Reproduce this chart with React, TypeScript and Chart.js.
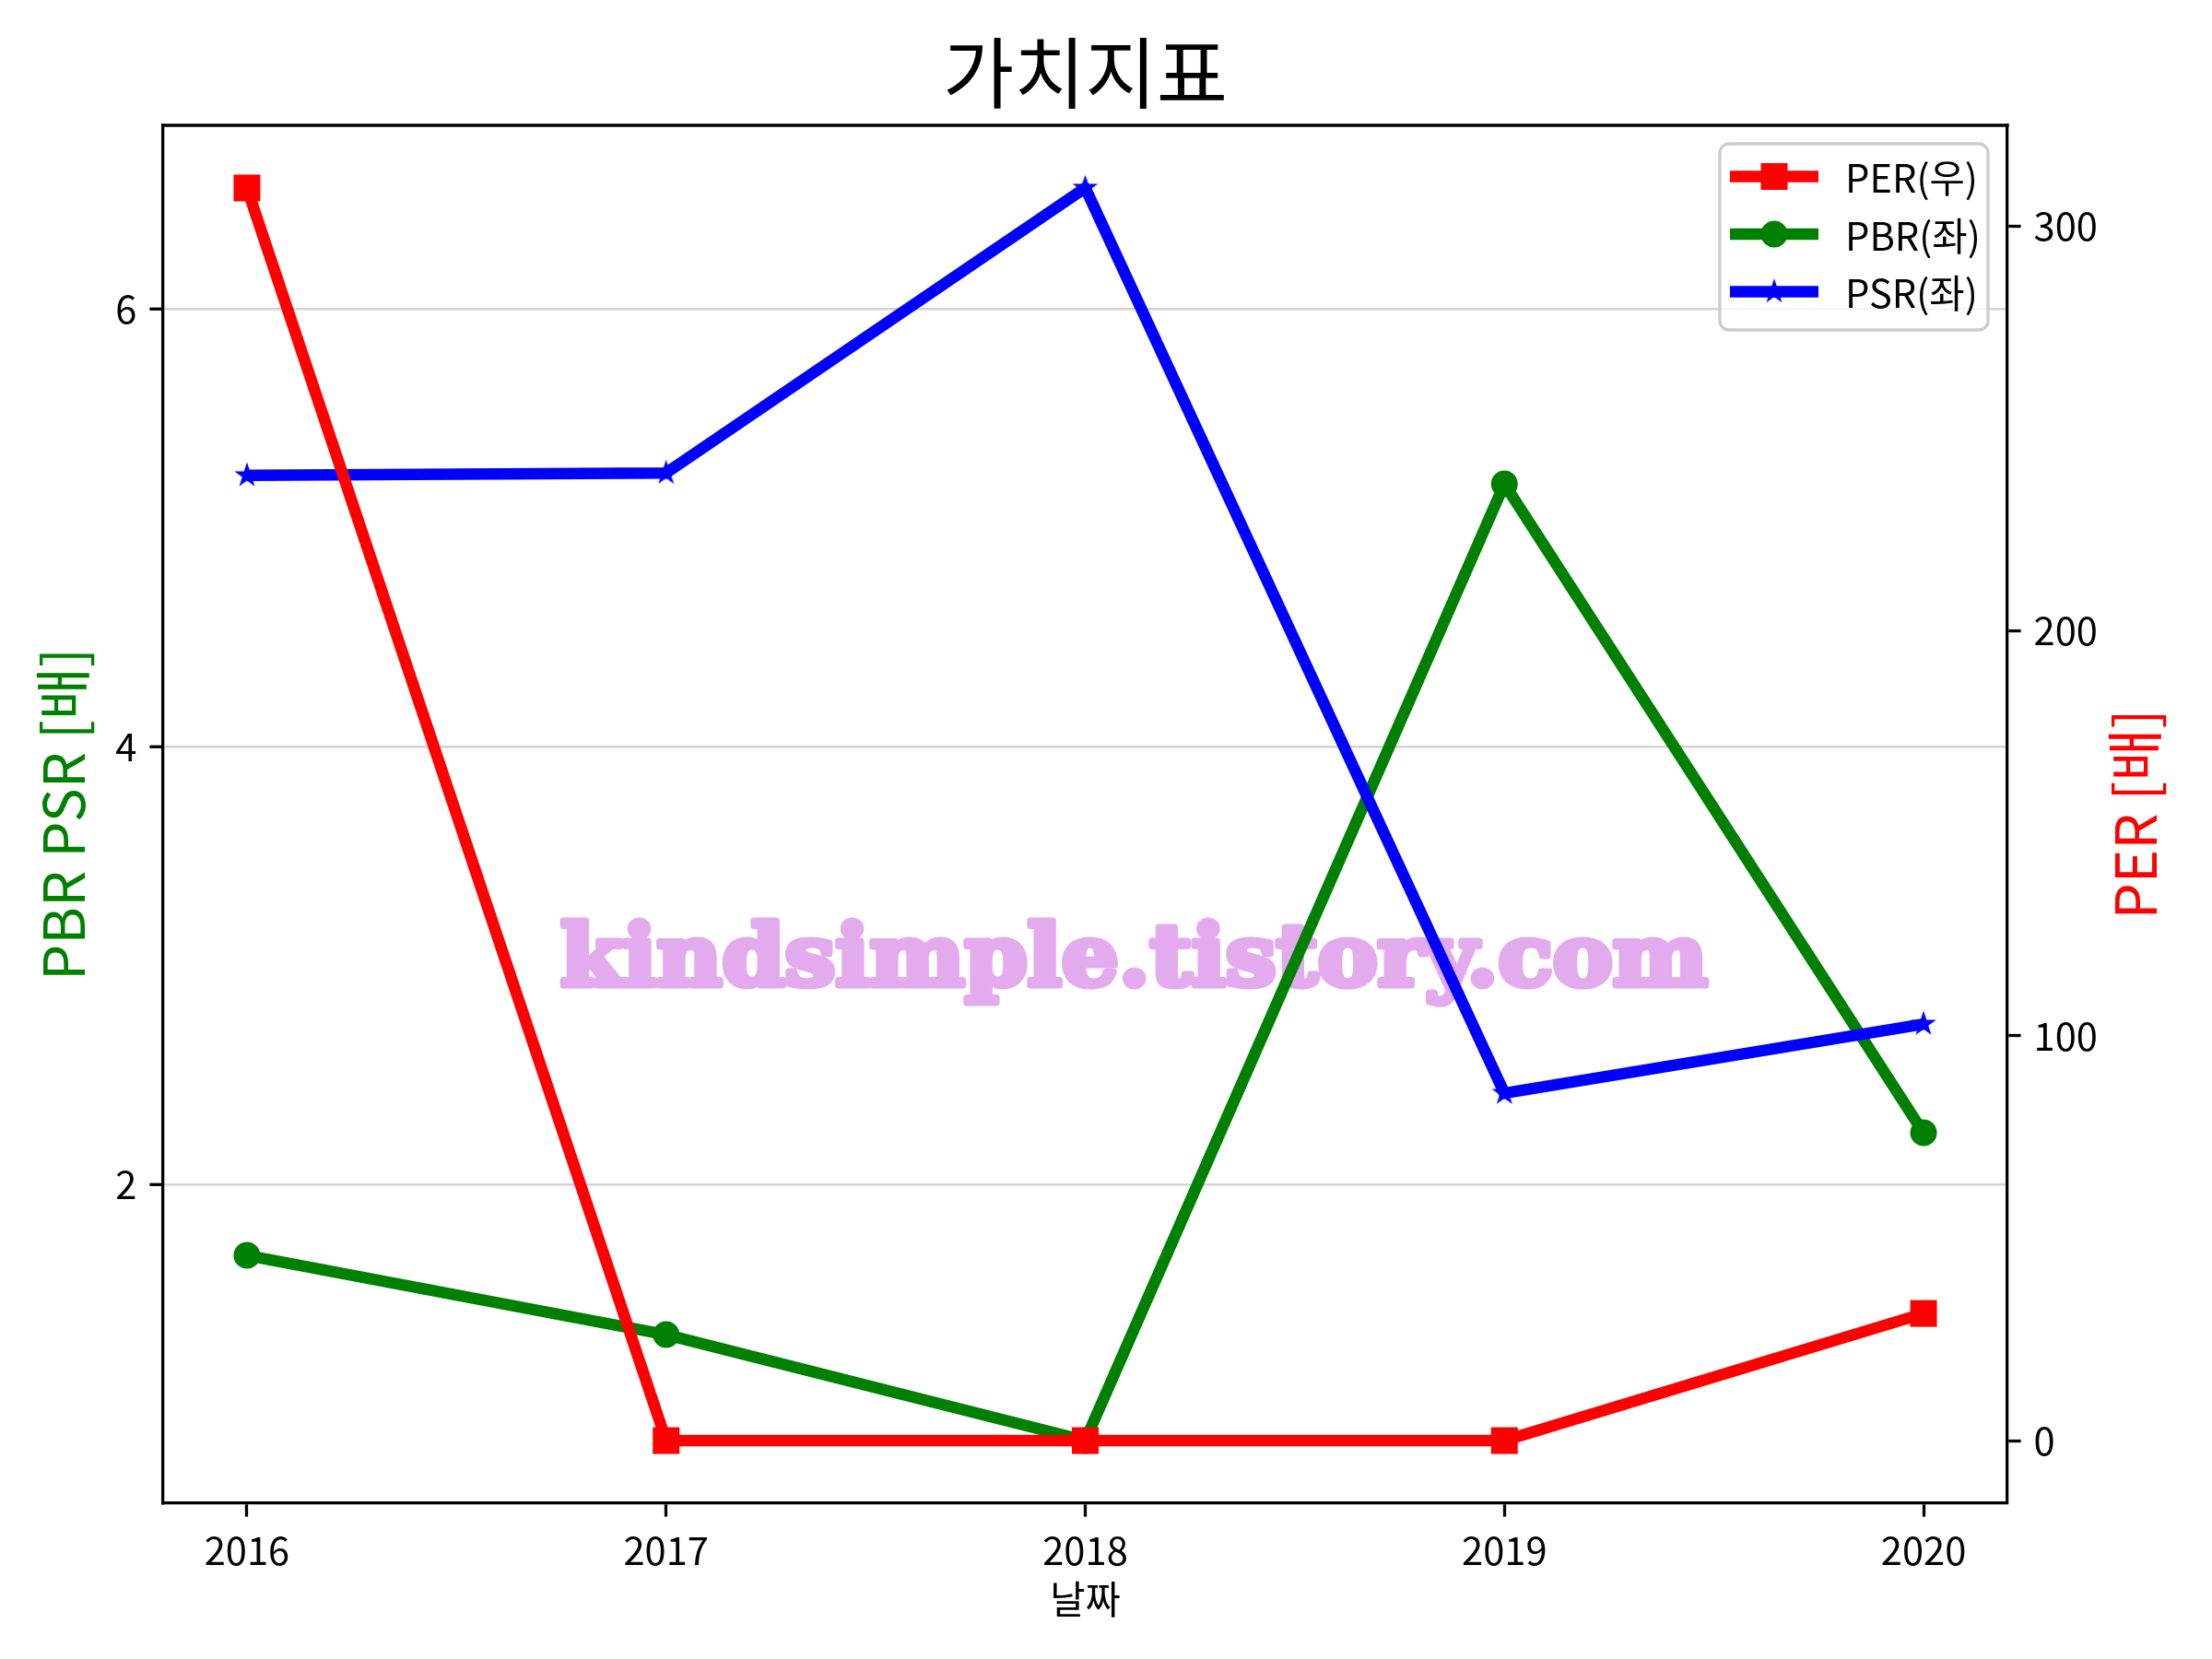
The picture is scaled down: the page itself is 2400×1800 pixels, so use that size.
import React, { useEffect, useRef } from "react";
import { Chart, registerables } from "chart.js";

Chart.register(...registerables);

const years = [2016, 2017, 2018, 2019, 2020];
const perValues = [309.4, 0, 0, 0, 31.4];
const pbrValues = [1.676, 1.314, 0.83, 5.2, 2.236];
const psrValues = [5.239, 5.25, 6.552, 2.417, 2.733];
const leftTicks = [2, 4, 6];
const rightTicks = [0, 100, 200, 300];
const titleText = "가치지표";
const xLabel = "날짜";
const leftLabel = "PBR PSR [배]";
const rightLabel = "PER [배]";
const legendLabels = ["PER(우)", "PBR(좌)", "PSR(좌)"];
const watermarkText = "kindsimple.tistory.com";

const FONT = "'Noto Sans CJK KR', 'Noto Sans', sans-serif";
const RED = "#ff0000";
const GREEN = "#008000";
const BLUE = "#0000ff";

function paddedRange(values: number[]) {
  const lo = Math.min(...values);
  const hi = Math.max(...values);
  const pad = (hi - lo) * 0.05;
  return { min: lo - pad, max: hi + pad };
}

function makeStar(color: string, outer: number) {
  const c = document.createElement("canvas");
  const s = Math.ceil(outer * 2 + 4);
  c.width = s;
  c.height = s;
  const ctx = c.getContext("2d")!;
  ctx.translate(s / 2, s / 2);
  ctx.beginPath();
  for (let i = 0; i < 10; i++) {
    const r = i % 2 === 0 ? outer : outer * 0.381966;
    const a = -Math.PI / 2 + (i * Math.PI) / 5;
    ctx.lineTo(r * Math.cos(a), r * Math.sin(a));
  }
  ctx.closePath();
  ctx.fillStyle = color;
  ctx.fill();
  ctx.lineWidth = 1.5;
  ctx.strokeStyle = color;
  ctx.stroke();
  return c;
}

export default function App() {
  const ref = useRef<HTMLCanvasElement | null>(null);

  useEffect(() => {
    if (!ref.current) return;
    const star = makeStar(BLUE, 12);
    const leftRange = paddedRange([...pbrValues, ...psrValues]);
    const rightRange = paddedRange(perValues);
    const xRange = paddedRange(years);

    const decor = {
      id: "decor",
      beforeDatasetsDraw(chart: any) {
        const ctx = chart.ctx as CanvasRenderingContext2D;
        ctx.save();
        ctx.font = "bold 92px 'DejaVu Serif', serif";
        const w = ctx.measureText(watermarkText).width;
        ctx.translate(1230.5, 1069);
        ctx.scale(1245 / w, 1);
        ctx.textAlign = "center";
        ctx.textBaseline = "alphabetic";
        ctx.fillStyle = "rgb(227,170,238)";
        ctx.strokeStyle = "rgb(227,170,238)";
        ctx.lineWidth = 7;
        ctx.lineJoin = "round";
        ctx.strokeText(watermarkText, 0, 0);
        ctx.fillText(watermarkText, 0, 0);
        ctx.restore();
      },
      afterDraw(chart: any) {
        const ctx = chart.ctx as CanvasRenderingContext2D;
        const a = chart.chartArea;
        const cx = (a.left + a.right) / 2;
        const cy = (a.top + a.bottom) / 2;
        ctx.save();
        // top spine
        ctx.strokeStyle = "#000";
        ctx.lineWidth = 3.3;
        ctx.beginPath();
        ctx.moveTo(a.left - 1.65, a.top);
        ctx.lineTo(a.right + 1.65, a.top);
        ctx.stroke();

        // title
        ctx.fillStyle = "#000";
        ctx.font = `84px ${FONT}`;
        ctx.textAlign = "center";
        ctx.textBaseline = "alphabetic";
        ctx.fillText(titleText, cx, 111);

        // x label
        ctx.font = `41.7px ${FONT}`;
        ctx.fillText(xLabel, cx, 1751);

        // left label
        ctx.save();
        ctx.font = `62px ${FONT}`;
        ctx.fillStyle = GREEN;
        ctx.translate(92, cy);
        ctx.rotate(-Math.PI / 2);
        ctx.fillText(leftLabel, 0, 0);
        ctx.restore();

        // right label
        ctx.save();
        ctx.font = `62px ${FONT}`;
        ctx.fillStyle = RED;
        ctx.translate(2340, cy);
        ctx.rotate(-Math.PI / 2);
        ctx.fillText(rightLabel, 0, 0);
        ctx.restore();

        // legend
        const lx = 1866, ly = 156, lw = 291, lh = 202;
        ctx.beginPath();
        ctx.roundRect(lx, ly, lw, lh, 10);
        ctx.fillStyle = "rgba(255,255,255,0.8)";
        ctx.fill();
        ctx.strokeStyle = "#cccccc";
        ctx.lineWidth = 3.3;
        ctx.stroke();

        const rows = [191.5, 254, 316.5];
        const colors = [RED, GREEN, BLUE];
        rows.forEach((y, i) => {
          ctx.strokeStyle = colors[i];
          ctx.lineWidth = 12.5;
          ctx.beginPath();
          ctx.moveTo(1877, y);
          ctx.lineTo(1973, y);
          ctx.stroke();
          ctx.fillStyle = colors[i];
          if (i === 0) {
            ctx.fillRect(1925 - 14.5, y - 14.5, 29, 29);
          } else if (i === 1) {
            ctx.beginPath();
            ctx.arc(1925, y, 14.5, 0, Math.PI * 2);
            ctx.fill();
          } else {
            ctx.drawImage(star, 1925 - star.width / 2, y - star.height / 2);
          }
          ctx.fillStyle = "#000";
          ctx.font = `41.7px ${FONT}`;
          ctx.textAlign = "left";
          ctx.textBaseline = "middle";
          ctx.fillText(legendLabels[i], 2002, y + 2);
        });
        ctx.restore();
      },
    };

    const tickFont = { family: FONT, size: 41.7 };

    const chart = new Chart(ref.current, {
      type: "line",
      data: {
        datasets: [
          {
            label: legendLabels[0],
            data: years.map((x, i) => ({ x, y: perValues[i] })),
            yAxisID: "yR",
            borderColor: RED,
            backgroundColor: RED,
            borderWidth: 12.5,
            pointStyle: "rect",
            pointRadius: 20.5,
            pointBorderWidth: 0,
            pointBackgroundColor: RED,
            order: 0,
          },
          {
            label: legendLabels[1],
            data: years.map((x, i) => ({ x, y: pbrValues[i] })),
            yAxisID: "yL",
            borderColor: GREEN,
            backgroundColor: GREEN,
            borderWidth: 12.5,
            pointStyle: "circle",
            pointRadius: 14.5,
            pointBorderWidth: 0,
            pointBackgroundColor: GREEN,
            order: 2,
          },
          {
            label: legendLabels[2],
            data: years.map((x, i) => ({ x, y: psrValues[i] })),
            yAxisID: "yL",
            borderColor: BLUE,
            backgroundColor: BLUE,
            borderWidth: 12.5,
            pointStyle: star as any,
            pointRadius: 12,
            pointBorderWidth: 0,
            pointBackgroundColor: BLUE,
            order: 1,
          },
        ] as any,
      },
      options: {
        responsive: false,
        devicePixelRatio: 1,
        animation: false,
        events: [],
        elements: {
          line: { tension: 0, borderJoinStyle: "round", borderCapStyle: "butt" },
        },
        layout: { padding: { top: 136, left: 0, right: 0, bottom: 0 } },
        plugins: {
          legend: { display: false },
          title: { display: false },
          tooltip: { enabled: false },
        },
        scales: {
          x: {
            type: "linear",
            position: "bottom",
            min: xRange.min,
            max: xRange.max,
            afterBuildTicks: (s: any) => {
              s.ticks = years.map((v) => ({ value: v }));
            },
            afterFit: (s: any) => {
              s.height = 169;
            },
            ticks: {
              callback: (v: any) => String(v),
              font: tickFont,
              color: "#000",
              padding: 12,
              maxRotation: 0,
              autoSkip: false,
            },
            grid: {
              display: true,
              drawOnChartArea: false,
              drawTicks: true,
              tickLength: 14.6,
              tickWidth: 3.3,
              tickColor: "#000",
            },
            border: { display: true, color: "#000", width: 3.3 },
          },
          yL: {
            type: "linear",
            position: "left",
            min: leftRange.min,
            max: leftRange.max,
            afterBuildTicks: (s: any) => {
              s.ticks = leftTicks.map((v) => ({ value: v }));
            },
            afterFit: (s: any) => {
              s.width = 177;
            },
            ticks: {
              callback: (v: any) => String(v),
              font: tickFont,
              color: "#000",
              padding: 14,
            },
            grid: {
              display: true,
              drawOnChartArea: true,
              color: "#d3d3d3",
              lineWidth: 2.5,
              drawTicks: true,
              tickLength: 14.6,
              tickWidth: 3.3,
              tickColor: "#000",
            },
            border: { display: true, color: "#000", width: 3.3 },
          },
          yR: {
            type: "linear",
            position: "right",
            min: rightRange.min,
            max: rightRange.max,
            afterBuildTicks: (s: any) => {
              s.ticks = rightTicks.map((v) => ({ value: v }));
            },
            afterFit: (s: any) => {
              s.width = 222;
            },
            ticks: {
              callback: (v: any) => String(v),
              font: tickFont,
              color: "#000",
              padding: 14,
            },
            grid: {
              display: true,
              drawOnChartArea: false,
              drawTicks: true,
              tickLength: 14.6,
              tickWidth: 3.3,
              tickColor: "#000",
            },
            border: { display: true, color: "#000", width: 3.3 },
          },
        },
      } as any,
      plugins: [decor],
    });

    return () => chart.destroy();
  }, []);

  return (
    <div
      style={{
        position: "absolute",
        left: 0,
        top: 0,
        width: 2400,
        height: 1800,
        background: "#fff",
      }}
    >
      <canvas
        ref={ref}
        width={2400}
        height={1800}
        style={{ display: "block", width: 2400, height: 1800 }}
      />
    </div>
  );
}
